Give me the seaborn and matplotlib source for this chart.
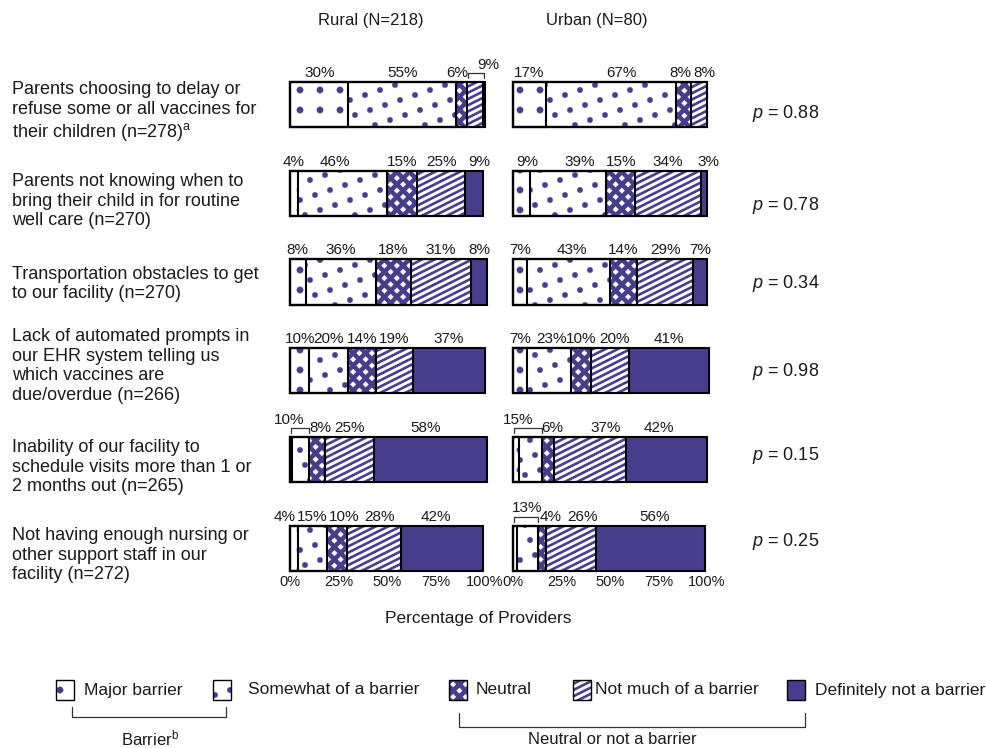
import numpy as np
import pandas as pd
import matplotlib
matplotlib.use("Agg")
import matplotlib.pyplot as plt
import matplotlib.hatch as mhatch
from matplotlib.path import Path
from matplotlib.patches import Rectangle
from matplotlib.lines import Line2D
import seaborn as sns

# ---------------------------------------------------------------- data
barriers = [
    "Parents choosing to delay or\nrefuse some or all vaccines for\ntheir children (n=278)$^{\\mathrm{a}}$",
    "Parents not knowing when to\nbring their child in for routine\nwell care (n=270)",
    "Transportation obstacles to get\nto our facility (n=270)",
    "Lack of automated prompts in\nour EHR system telling us\nwhich vaccines are\ndue/overdue (n=266)",
    "Inability of our facility to\nschedule visits more than 1 or\n2 months out (n=265)",
    "Not having enough nursing or\nother support staff in our\nfacility (n=272)",
]
responses = ["Major barrier", "Somewhat of a barrier", "Neutral",
             "Not much of a barrier", "Definitely not a barrier"]

rural_major = [30, 4, 8, 10, 1, 4]
rural_somewhat = [55, 46, 36, 20, 9, 15]
rural_neutral = [6, 15, 18, 14, 8, 10]
rural_not_much = [8, 25, 31, 19, 25, 28]
rural_definitely = [1, 9, 8, 37, 58, 42]

urban_major = [17, 9, 7, 7, 3, 2]
urban_somewhat = [67, 39, 43, 23, 12, 11]
urban_neutral = [8, 15, 14, 10, 6, 4]
urban_not_much = [8, 34, 29, 20, 37, 26]
urban_definitely = [0, 3, 7, 41, 42, 56]

p_values = ["0.88", "0.78", "0.34", "0.98", "0.15", "0.25"]

# segments sharing one bracketed label: (row, first segment, last segment)
rural_groups = [(0, 3, 4), (4, 0, 1)]
urban_groups = [(4, 0, 1), (5, 0, 1)]

x_ticks = [0, 25, 50, 75, 100]
x_tick_labels = ["0%", "25%", "50%", "75%", "100%"]

# ---------------------------------------------------------------- style
PURPLE = "#483D8B"
INK = "#1a1a1a"
W, H = 987, 748

sns.set_theme(style="white")
plt.rcParams["font.family"] = ["Liberation Sans", "DejaVu Sans"]
plt.rcParams["mathtext.fontset"] = "custom"
plt.rcParams["mathtext.rm"] = "Liberation Sans"
plt.rcParams["mathtext.it"] = "Liberation Sans:italic"
plt.rcParams["mathtext.bf"] = "Liberation Sans:bold"
plt.rcParams["hatch.linewidth"] = 0.3
plt.rcParams["text.color"] = INK


# ---------------------------------------------------------------- fill patterns
class ShapeHatch(mhatch.HatchPatternBase):
    """Hatch made of filled polygons laid out inside the unit tile."""
    symbol = ""

    def __init__(self, hatch, density):
        self.polys = self.build() if self.symbol in hatch else []
        self.num_vertices = sum(len(p) + 1 for p in self.polys)

    def build(self):
        return []

    def set_vertices_and_codes(self, vertices, codes):
        i = 0
        for poly in self.polys:
            n = len(poly)
            vertices[i:i + n] = poly
            vertices[i + n] = poly[0]
            codes[i] = Path.MOVETO
            codes[i + 1:i + n] = Path.LINETO
            codes[i + n] = Path.CLOSEPOLY
            i += n + 1


def tiled(centers, shape):
    polys = []
    for cx, cy in centers:
        for dx in (-1, 0, 1):
            for dy in (-1, 0, 1):
                x, y = cx + dx, cy + dy
                if -0.1 < x < 1.1 and -0.1 < y < 1.1:
                    polys.append(shape + np.array([x, y]))
    return polys


def disc(r, n=18):
    t = np.linspace(0, 2 * np.pi, n, endpoint=False)
    return np.column_stack([r * np.cos(t), r * np.sin(t)])


class GridDots(ShapeHatch):
    symbol = "O"

    def build(self):
        c = [(i / 5, (j + 0.5) / 5) for i in range(5) for j in range(5)]
        return tiled(c, disc(0.032))


class ScatterDots(ShapeHatch):
    symbol = "o"

    def build(self):
        pts = set()
        for i in range(40):
            for j in range(40):
                pts.add((round(((6 * i - 2 * j) / 40) % 1, 4),
                         round(((2 * i + 6 * j) / 40) % 1, 4)))
        return tiled(sorted(pts), disc(0.027))


class Diamonds(ShapeHatch):
    symbol = "*"

    def build(self):
        c = [((i + 0.25 + 0.5 * (j % 2)) / 8, (j + 0.5) / 16)
             for i in range(8) for j in range(16)]
        h = 0.027
        shape = np.array([[h, 0], [0, h], [-h, 0], [0, -h]])
        return tiled(c, shape)


class Stripes(ShapeHatch):
    symbol = "/"

    def build(self):
        t = 0.028
        polys = []
        for j in range(-10, 18):
            c = j / 16
            polys.append(np.array([[0, c], [1, c + 0.5], [1, c + 0.5 + t], [0, c + t]]))
        return polys


mhatch._hatch_types = [GridDots, ScatterDots, Diamonds, Stripes]

# face colour, hatch colour, hatch symbol for each response
STYLES = [
    ("white", PURPLE, "O"),
    ("white", PURPLE, "o"),
    (PURPLE, "white", "*"),
    (PURPLE, "white", "/"),
    (PURPLE, PURPLE, None),
]

BAR_H = 0.51

# label nudges (percentage units) where neighbouring labels would collide
rural_nudge = {(0, 2): -2.4, (1, 1): -4, (1, 4): 2.5, (4, 2): 1.5, (4, 4): -2.5,
               (5, 0): -4.5, (5, 2): 4, (5, 3): 3, (5, 4): -3}
urban_nudge = {(0, 1): 5.5, (0, 2): -1.5, (0, 3): 2.5, (1, 0): 3, (1, 1): 6, (1, 4): 2,
               (2, 1): 2, (3, 1): 1.5, (3, 3): 2.5, (4, 2): 2, (4, 3): 8, (4, 4): -4,
               (5, 2): 4.5, (5, 3): 6, (5, 4): 2}
# bracket label x position (percentage units)
rural_group_x = [101.5, -0.5]
urban_group_x = [2.6, 7.2]

fig = plt.figure(figsize=(W / 100, H / 100), dpi=100)


def fx(x):
    return x / W


def fy(y):
    return 1 - y / H


ax_top, ax_bot = 60, 571
ax_r = fig.add_axes([fx(290), fy(ax_bot), 195 / W, (ax_bot - ax_top) / H])
ax_u = fig.add_axes([fx(513), fy(ax_bot), 194 / W, (ax_bot - ax_top) / H])


def draw_panel(ax, parts, groups, group_x, nudges):
    vals = np.array(parts, dtype=float).T
    cum = vals.cumsum(axis=1)
    starts = cum - vals
    df = pd.DataFrame(cum, columns=responses)
    df["barrier"] = barriers

    # stacked fills: longest cumulative bar first, shorter ones on top
    for k in reversed(range(5)):
        n0 = len(ax.patches)
        sns.barplot(data=df, x=responses[k], y="barrier", orient="h", width=BAR_H,
                    color=STYLES[k][0], saturation=1, errorbar=None, ax=ax)
        face, hcol, hatch = STYLES[k]
        for p in ax.patches[n0:]:
            p.set_facecolor(face)
            p.set_edgecolor(hcol)
            p.set_linewidth(0)
            p.set_hatch(hatch)
            p.set_clip_on(False)

    # black segment outlines
    for k in range(5):
        n0 = len(ax.patches)
        sns.barplot(data=df, x=responses[k], y="barrier", orient="h", width=BAR_H,
                    color="black", saturation=1, errorbar=None, ax=ax)
        for p in ax.patches[n0:]:
            p.set_facecolor("none")
            p.set_edgecolor("black")
            p.set_linewidth(1.5)
            p.set_hatch(None)
            p.set_zorder(5)
            p.set_clip_on(False)

    ax.set_xlim(0, 100)
    ax.set_ylim(5 + BAR_H / 2 + 0.0005, -0.5)
    ax.set_xticks(x_ticks)
    ax.set_xticklabels(x_tick_labels)
    ax.tick_params(axis="x", length=0, pad=3, labelsize=10.5, colors=INK)
    ax.set_yticks([])
    ax.set_xlabel("")
    ax.set_ylabel("")
    sns.despine(ax=ax, left=True, bottom=True)

    grouped = {(r, k) for r, a, b in groups for k in range(a, b + 1)}
    for r in range(6):
        for k in range(5):
            v = vals[r, k]
            if v == 0 or (r, k) in grouped:
                continue
            x = starts[r, k] + v / 2 + nudges.get((r, k), 0)
            ax.annotate(f"{v:g}%", (x, r - BAR_H / 2), xytext=(0, 3.5),
                        textcoords="offset points", ha="center", va="baseline",
                        fontsize=11, annotation_clip=False)

    fig.canvas.draw()
    for (r, a, b), tx in zip(groups, group_x):
        x0, x1 = starts[r, a] + 0.3, cum[r, b] - 0.3
        y = r - BAR_H / 2
        # bracket drawn in pixel space just above the bar
        (px0, py), (px1, _) = ax.transData.transform([(x0, y), (x1, y)])
        xs = [px0 / W, px0 / W, px1 / W, px1 / W]
        ys = [(py + 4) / H, (py + 9) / H, (py + 9) / H, (py + 4) / H]
        fig.add_artist(Line2D(xs, ys, transform=fig.transFigure, color="#333333", lw=0.9))
        total = vals[r, a:b + 1].sum()
        ax.annotate(f"{total:g}%", (tx, y), xytext=(0, 9.5),
                    textcoords="offset points", ha="center", va="baseline",
                    fontsize=11, annotation_clip=False)


draw_panel(ax_r, [rural_major, rural_somewhat, rural_neutral, rural_not_much, rural_definitely],
           rural_groups, rural_group_x, rural_nudge)
draw_panel(ax_u, [urban_major, urban_somewhat, urban_neutral, urban_not_much, urban_definitely],
           urban_groups, urban_group_x, urban_nudge)

# ---------------------------------------------------------------- text around the panels
fig.text(fx(371), fy(20), "Rural (N=218)", ha="center", va="center", fontsize=12)
fig.text(fx(597), fy(20), "Urban (N=80)", ha="center", va="center", fontsize=12)

label_y = [112, 201, 284, 366, 467, 555]
for text, y in zip(barriers, label_y):
    fig.text(fx(12), fy(y), text, ha="left", va="center", fontsize=13, linespacing=1.2)

p_y = [114, 205, 283, 371, 455, 542]
for p, y in zip(p_values, p_y):
    fig.text(fx(752), fy(y), f"$p$ = {p}", ha="left", va="center", fontsize=13)

fig.text(fx(478), fy(619), "Percentage of Providers", ha="center", va="center", fontsize=12.5)

# ---------------------------------------------------------------- legend
legend_items = [(56, 84), (213, 248), (449, 476), (573, 595), (787, 815)]
for (xp, xt), name, (face, hcol, hatch) in zip(legend_items, responses, STYLES):
    fig.add_artist(Rectangle((fx(xp), fy(700)), 18 / W, 20 / H, transform=fig.transFigure,
                             facecolor=face, edgecolor=hcol, linewidth=0, hatch=hatch))
    fig.add_artist(Rectangle((fx(xp), fy(700)), 18 / W, 20 / H, transform=fig.transFigure,
                             facecolor="none", edgecolor="black", linewidth=1.0))
    fig.text(fx(xt), fy(690), name, ha="left", va="center", fontsize=12.5)


def bracket(x0, x1, y_top, y_line):
    xs = [fx(x0), fx(x0), fx(x1), fx(x1)]
    ys = [fy(y_top), fy(y_line), fy(y_line), fy(y_top)]
    fig.add_artist(Line2D(xs, ys, transform=fig.transFigure, color="#333333", lw=0.9))


bracket(72, 226, 707, 717)
bracket(459, 805, 713, 727)
fig.text(fx(150), fy(738), "Barrier$^{\\mathrm{b}}$", ha="center", va="center", fontsize=12)
fig.text(fx(612), fy(739), "Neutral or not a barrier", ha="center", va="center", fontsize=12)

fig.savefig("out.png", dpi=100, facecolor="white")
